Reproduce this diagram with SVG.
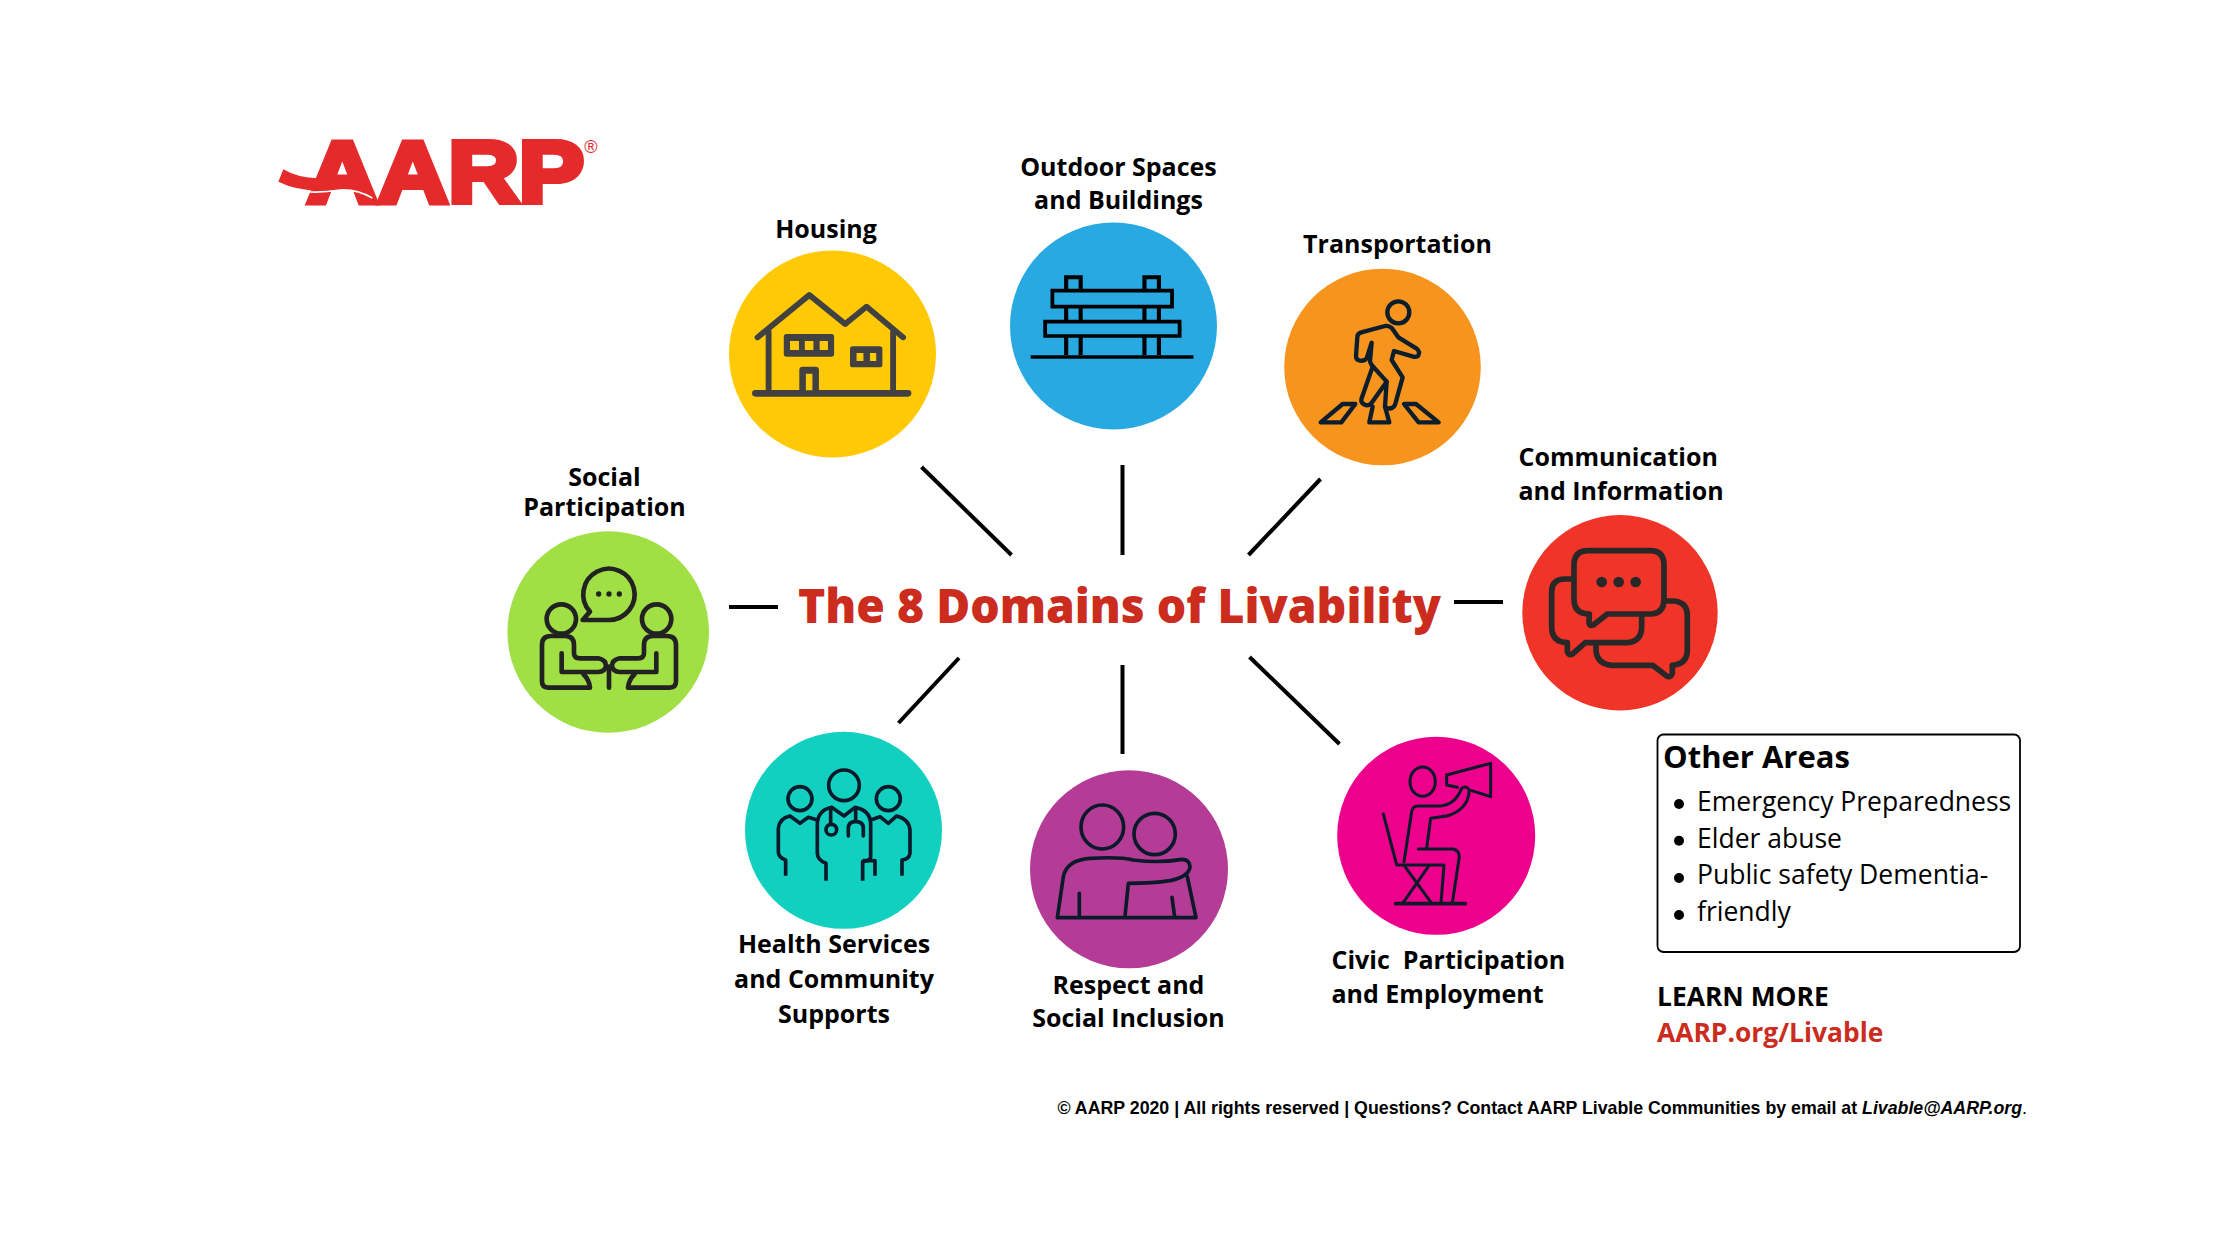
<svg xmlns="http://www.w3.org/2000/svg" width="2240" height="1260" viewBox="0 0 2240 1260">
<style>
text{font-family:"Open Sans","Noto Sans","Liberation Sans",sans-serif}
.l{font-size:25px;font-weight:700;fill:#000}
.m{text-anchor:middle}
.i{fill:none;stroke-linecap:round;stroke-linejoin:round}
.c{stroke:#000;stroke-width:4;fill:none}
.b{font-size:26.500px;fill:#000}
</style>
<rect width="2240" height="1260" fill="#fff"/>
<g id="logo">
<text x="307" y="202" font-size="88" style="font-family:'Liberation Sans',sans-serif;font-weight:700" fill="#e42a2b" stroke="#e42a2b" stroke-width="6" textLength="277" lengthAdjust="spacingAndGlyphs">AARP</text>
<g transform="translate(260 120) scale(.3333)">
<path d="M70 148Q120 178 190 174L300 170L330 225Q270 205 210 210Q120 217 55 185Z" fill="#e42a2b"/>
<path d="M150 216Q190 218 240 210Q290 207 337 234" fill="none" stroke="#fff" stroke-width="5"/>
</g>
<text x="591" y="153" font-size="18" style="font-family:'Liberation Sans',sans-serif" fill="#e42a2b" text-anchor="middle">®</text>
</g>
<g id="connectors">
<path class="c" d="M921.500 467L1011.500 555"/>
<path class="c" d="M1122.500 465V555"/>
<path class="c" d="M1320.500 479L1248.500 555"/>
<path class="c" d="M729 607H778"/>
<path class="c" d="M1454 602H1503"/>
<path class="c" d="M959 658L898.500 723"/>
<path class="c" d="M1122.500 665V754"/>
<path class="c" d="M1249.500 657L1339.500 744"/>
</g>
<g id="title"><text x="798" y="622.500" font-size="47" font-weight="800" fill="#cb2c1d" textLength="643" lengthAdjust="spacingAndGlyphs">The 8 Domains of Livability</text></g>
<g id="housing">
<circle cx="832.500" cy="354" r="103.500" fill="#ffca05"/>
<g transform="translate(710 200) scale(.3448 .3333)">
<path class="i" stroke="#414141" stroke-width="17" d="M138 412L288 285L392 372L454 320L560 412M170 395V580M531 395V580"/>
<path class="i" stroke="#414141" stroke-width="20" d="M132 580H574"/>
<path fill="#414141" d="M222 402H352Q360 402 360 410V462Q360 470 352 470H222Q214 470 214 462V410Q214 402 222 402ZM414 439H492Q500 439 500 447V494Q500 502 492 502H414Q406 502 406 494V447Q406 439 414 439ZM269 500H306Q316 500 316 510V575H259V510Q259 500 269 500Z"/>
<path fill="#ffca05" d="M232 423H258V450H232ZM275 423H300V450H275ZM318 423H342V450H318ZM425 459H445V483H425ZM464 459H482V483H464ZM278 521H297V571H278Z"/>
</g>
<text class="l m" x="826" y="237.500">Housing</text>
</g>
<g id="outdoor">
<circle cx="1113.500" cy="326" r="103.500" fill="#29a9e1"/>
<g transform="translate(710 200) scale(.3448 .3333)" fill="none" stroke="#000">
<path stroke-width="12" d="M1033 465V232H1075V465M1260 465V232H1302V465"/>
<path stroke-width="11" fill="#29a9e1" d="M993 272H1340V320H993ZM972 365H1362V408H972Z"/>
<path stroke-width="11" d="M930 471H1402"/>
</g>
<text class="l m" x="1118.500" y="175.500">Outdoor Spaces</text>
<text class="l m" x="1118.500" y="208.500">and Buildings</text>
</g>
<g id="transportation">
<circle cx="1382.500" cy="367" r="98.300" fill="#f7941e"/>
<g class="i" transform="translate(1270 250) scale(.3333)" stroke="#0c1e2c" stroke-width="13">
<circle cx="385" cy="187" r="33"/>
<path d="M305 278L290 325Q282 334 270 332Q258 330 258 318L262 262Q262 250 274 247L345 228Q358 226 367 236L385 262L440 296Q452 306 444 318Q436 322 430 320L372 303L365 330L398 382L375 465Q368 478 352 475L345 470L350 395L305 345L300 335Z"/>
<path d="M308 350L274 448Q272 462 290 466Q300 466 304 460L350 395"/>
<path d="M152 517L218 462H256L214 517ZM298 517L308 470M345 470L358 517H298M402 462H438L506 517H446Z"/>
</g>
<text class="l m" x="1397.500" y="252.500">Transportation</text>
</g>
<g id="communication">
<circle cx="1620" cy="612.700" r="97.700" fill="#f03428"/>
<g class="i" transform="translate(1510 510) scale(.3333)" stroke="#282828" stroke-width="17">
<path d="M238 312Q192 312 192 268V165Q192 122 235 122H420Q462 122 462 165V268Q462 312 420 312H292L250 345Q238 350 237 338Z"/>
<path d="M190 207H165Q125 207 125 245V350Q125 396 172 398V425Q175 438 188 432L226 398H350Q395 395 395 350V320"/>
<path d="M470 273H490Q532 275 532 318V420Q532 462 487 466V490Q482 505 470 498L428 466H305Q260 462 258 420V400"/>
<g fill="#282828" stroke="none"><circle cx="275" cy="216" r="16"/><circle cx="326" cy="216" r="16"/><circle cx="377" cy="216" r="16"/></g>
</g>
<text class="l" x="1518.500" y="465.500">Communication</text>
<text class="l" x="1518.500" y="499.500">and Information</text>
</g>
<g id="social">
<circle cx="608.200" cy="632" r="100.800" fill="#a0e044"/>
<g class="i" transform="translate(500 520) scale(.3333)" stroke="#222" stroke-width="14">
<path d="M270 275A77 77 0 1 1 327 300L248 300Z"/>
<circle cx="184" cy="297" r="44"/><circle cx="470" cy="297" r="44"/>
<path d="M270 503H145Q126 503 126 484V375Q126 348 153 348H195Q222 348 222 375V400Q222 415 240 415H295Q318 420 318 438Q315 456 295 456H185V400M270 503Q268 480 250 462"/>
<path d="M384 503H509Q528 503 528 484V375Q528 348 501 348H459Q432 348 432 375V400Q432 415 414 415H359Q336 420 336 438Q339 456 359 456H469V400M384 503Q386 480 404 462"/>
<path d="M327 440V503"/>
<g fill="#222" stroke="none"><circle cx="296" cy="222" r="8"/><circle cx="327" cy="222" r="8"/><circle cx="358" cy="222" r="8"/></g>
</g>
<text class="l m" x="604.500" y="485.500">Social</text>
<text class="l m" x="604.500" y="516">Participation</text>
</g>
<g id="health">
<circle cx="843.500" cy="830.300" r="98.500" fill="#12d0c0"/>
<g transform="translate(740 730) scale(.3333)" fill="none" stroke="#0a1a2a" stroke-width="11" stroke-linejoin="round">
<circle cx="312" cy="166" r="46"/><circle cx="180" cy="206" r="36"/><circle cx="445" cy="206" r="36"/>
<path d="M258 452V400Q232 390 232 370V280Q235 240 275 232L312 258L345 232Q390 240 392 280V380Q392 392 368 395V452"/>
<path d="M137 437V390Q115 382 115 365V295Q118 265 150 258L180 280L205 262L232 270"/>
<path d="M392 270L420 260L445 280L470 258Q508 268 510 300V370Q508 388 486 390V437"/>
<path d="M368 392H405V437"/>
<path d="M272 235V283"/><circle cx="274" cy="299" r="16"/>
<path stroke-linecap="round" d="M325 318V295Q325 275 347 275Q370 275 370 295V318M347 235V275"/>
</g>
<text class="l m" x="834" y="952.500">Health Services</text>
<text class="l m" x="834" y="987.500">and Community</text>
<text class="l m" x="834" y="1022.500">Supports</text>
</g>
<g id="respect">
<circle cx="1129" cy="869.300" r="99" fill="#b43c96"/>
<g class="i" transform="translate(1020 760) scale(.3333)" stroke="#0a1a2a" stroke-width="11">
<ellipse cx="247" cy="201" rx="64" ry="66"/><ellipse cx="404" cy="222" rx="62" ry="62"/>
<path d="M112 473H528L502 350M112 473L130 350Q140 300 210 295Q300 290 340 300Q420 310 485 298Q510 298 510 322Q505 350 450 362Q400 370 325 370L315 470M178 400V470M456 412L464 470"/>
</g>
<text class="l m" x="1128.500" y="993.500">Respect and</text>
<text class="l m" x="1128.500" y="1026.500">Social Inclusion</text>
</g>
<g id="civic">
<circle cx="1436.200" cy="835.800" r="99" fill="#ec008c"/>
<g class="i" transform="translate(1330 730) scale(.3333)" stroke="#0a1a2a" stroke-width="9">
<ellipse cx="278" cy="155" rx="38" ry="44"/>
<path d="M382 172L350 165V135L482 100V200L425 182"/>
<path d="M222 395L245 245Q248 228 265 228H330Q375 225 395 175Q408 165 418 180Q415 240 350 258L302 265L290 355"/>
<path d="M265 357H370Q388 362 388 380L367 520"/>
<path d="M160 252L200 405H342L333 520M295 410L218 520M225 410L305 520"/>
<path stroke-width="11" d="M197 521H406"/>
</g>
<text class="l" x="1331.500" y="968.500" style="white-space:pre">Civic  Participation</text>
<text class="l" x="1331.500" y="1002.500">and Employment</text>
</g>
<g id="other-areas">
<rect x="1657.500" y="734.500" width="362.500" height="217.500" rx="6" fill="#fff" stroke="#000" stroke-width="1.800"/>
<text x="1663" y="768" font-size="31" font-weight="700">Other Areas</text>
<circle cx="1679" cy="804" r="5"/><circle cx="1679" cy="840.700" r="5"/><circle cx="1679" cy="878" r="5"/><circle cx="1679" cy="915" r="5"/>
<text class="b" x="1697" y="811">Emergency Preparedness</text>
<text class="b" x="1697" y="847.500">Elder abuse</text>
<text class="b" x="1697" y="884">Public safety Dementia-</text>
<text class="b" x="1697" y="920.500">friendly</text>
</g>
<g id="learn-more">
<text x="1657" y="1006" font-size="26.400" font-weight="700" fill="#000">LEARN MORE</text>
<text x="1657" y="1042" font-size="26.400" font-weight="700" fill="#cb2c1d">AARP.org/Livable</text>
</g>
<g id="footer">
<text x="1057.500" y="1113.500" font-size="17.750" style="font-family:'Liberation Sans',sans-serif" font-weight="700">© AARP 2020 | All rights reserved | Questions? Contact AARP Livable Communities by email at <tspan font-style="italic">Livable@AARP.org</tspan><tspan font-weight="400">.</tspan></text>
</g>
</svg>
